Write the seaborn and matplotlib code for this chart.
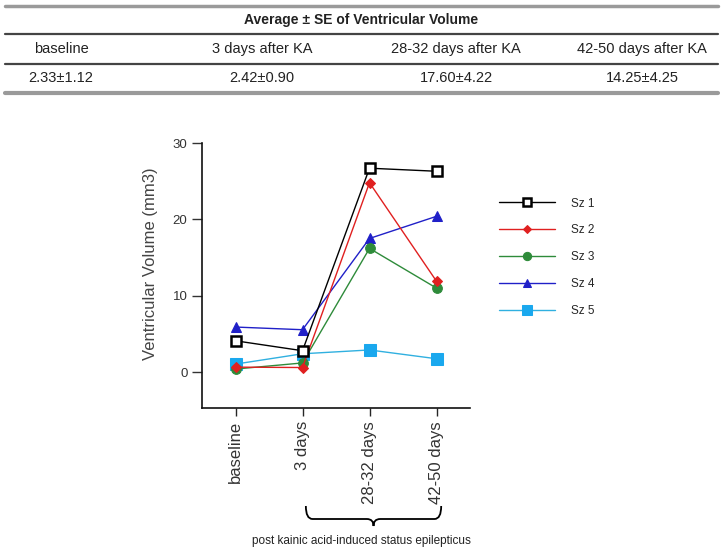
import numpy as np
import pandas as pd
import matplotlib
matplotlib.use("Agg")
import matplotlib.pyplot as plt
import matplotlib.transforms as mtransforms
from matplotlib.path import Path
from matplotlib.patches import PathPatch
from matplotlib.lines import Line2D
import seaborn as sns

# summary table
table_title = "Average ± SE of Ventricular Volume"
table_cols = ["baseline", "3 days after KA", "28-32 days after KA", "42-50 days after KA"]
table_vals = ["2.33±1.12", "2.42±0.90", "17.60±4.22", "14.25±4.25"]

# per-animal values (mm3)
timepoints = ["baseline", "3 days", "28-32 days", "42-50 days"]
sz1 = [4.1, 2.8, 26.7, 26.3]
sz2 = [0.65, 0.6, 24.8, 11.9]
sz3 = [0.4, 1.2, 16.2, 11.0]
sz4 = [5.9, 5.55, 17.5, 20.4]
sz5 = [1.05, 2.4, 2.9, 1.75]
series = {"Sz 1": sz1, "Sz 2": sz2, "Sz 3": sz3, "Sz 4": sz4, "Sz 5": sz5}

df = pd.DataFrame([(name, i, v) for name, vals in series.items() for i, v in enumerate(vals)],
                  columns=["animal", "t", "volume"])

sns.set_theme(style="ticks")
plt.rcParams["font.family"] = ["Liberation Sans", "DejaVu Sans"]

fig = plt.figure(figsize=(7.23, 5.56), dpi=100)

# --- table at the top ---
def hline(y, lw, color):
    fig.add_artist(Line2D([5/723, 718/723], [1 - y/556, 1 - y/556], lw=lw, color=color))

hline(6, 2.5, "#9a9a9a")
hline(34, 1.6, "#444444")
hline(64, 1.6, "#444444")
hline(93, 3.0, "#9a9a9a")
fig.text(0.5, 1 - 20/556, table_title, ha="center", va="center", fontsize=10, fontweight="bold", color="#222222")
col_x = [61, 262, 456, 642]
for x, c, v in zip(col_x, table_cols, table_vals):
    fig.text(x/723, 1 - 49/556, c, ha="center", va="center", fontsize=10.5, color="#222222")
    fig.text(x/723, 1 - 78/556, v, ha="center", va="center", fontsize=10.5, color="#222222")

# --- line chart ---
ax = fig.add_axes([202/723, 1 - 408/556, 268/723, 265/556])

styles = {
    "Sz 1": dict(color="black", marker="s", markersize=7, mfc="white", mec="black", mew=1.8),
    "Sz 2": dict(color="#e02020", marker="D", markersize=5, mfc="#e02020", mec="#e02020"),
    "Sz 3": dict(color="#2e8b3a", marker="o", markersize=7, mfc="#2e8b3a", mec="#2e8b3a"),
    "Sz 4": dict(color="#2020c8", marker="^", markersize=7, mfc="#2020c8", mec="#2020c8"),
    "Sz 5": dict(color="#30b0e0", marker="s", markersize=8, mfc="#1aa8ee", mec="#1aa8ee"),
}
order = ["Sz 5", "Sz 4", "Sz 3", "Sz 2", "Sz 1"]
for name in order:
    sub = df[df["animal"] == name]
    sns.lineplot(data=sub, x="t", y="volume", ax=ax, lw=1.0, label=name, **styles[name])

ax.set_xlim(-0.5, 3.5)
ax.set_ylim(-4.7, 30)
ax.set_yticks([0, 10, 20, 30])
ax.set_xticks(range(len(timepoints)))
ax.set_xticklabels(timepoints, rotation=90, fontsize=12, color="#333333")
ax.tick_params(axis="y", labelsize=9.5, colors="#333333", length=7, width=1)
ax.tick_params(axis="x", length=6, width=1)
ax.set_xlabel("")
ax.set_ylabel("Ventricular Volume (mm3)", fontsize=12, color="#444444")
ax.yaxis.set_label_coords(-0.165, 0.543)
for s in ["top", "right"]:
    ax.spines[s].set_visible(False)
for s in ["left", "bottom"]:
    ax.spines[s].set_color("#111111")
    ax.spines[s].set_linewidth(1.2)

h, l = ax.get_legend_handles_labels()
lookup = dict(zip(l, h))
names = list(series.keys())
ax.legend([lookup[n] for n in names], names, loc="upper left",
          bbox_to_anchor=(488/723, 1 - 187/556), bbox_transform=fig.transFigure,
          frameon=False, fontsize=8.5, handlelength=4.8, handletextpad=1.3,
          labelspacing=1.25, markerscale=0.85)

# --- curly brace under the post-KA timepoints ---
trans = mtransforms.blended_transform_factory(ax.transData, fig.transFigure)
x0, x1 = 1.05, 3.07
xc = (x0 + x1) / 2
yt, ym, yb = 1 - 506/556, 1 - 519/556, 1 - 526/556
r = 0.1
verts = [(x0, yt), (x0, ym), (x0 + r, ym), (x0 + r, ym),
         (xc - r, ym), (xc, ym), (xc, yb),
         (xc, ym), (xc + r, ym),
         (x1 - r, ym), (x1 - r, ym), (x1, ym), (x1, yt)]
codes = [Path.MOVETO, Path.CURVE3, Path.CURVE3, Path.LINETO,
         Path.LINETO, Path.CURVE3, Path.CURVE3,
         Path.CURVE3, Path.CURVE3,
         Path.LINETO, Path.LINETO, Path.CURVE3, Path.CURVE3]
fig.add_artist(PathPatch(Path(verts, codes), transform=trans, fill=False, lw=1.3, color="black"))
fig.text(361/723, 1 - 541/556, "post kainic acid-induced status epilepticus",
         ha="center", va="center", fontsize=8.5, color="#222222")

fig.savefig("out.png", dpi=100)
